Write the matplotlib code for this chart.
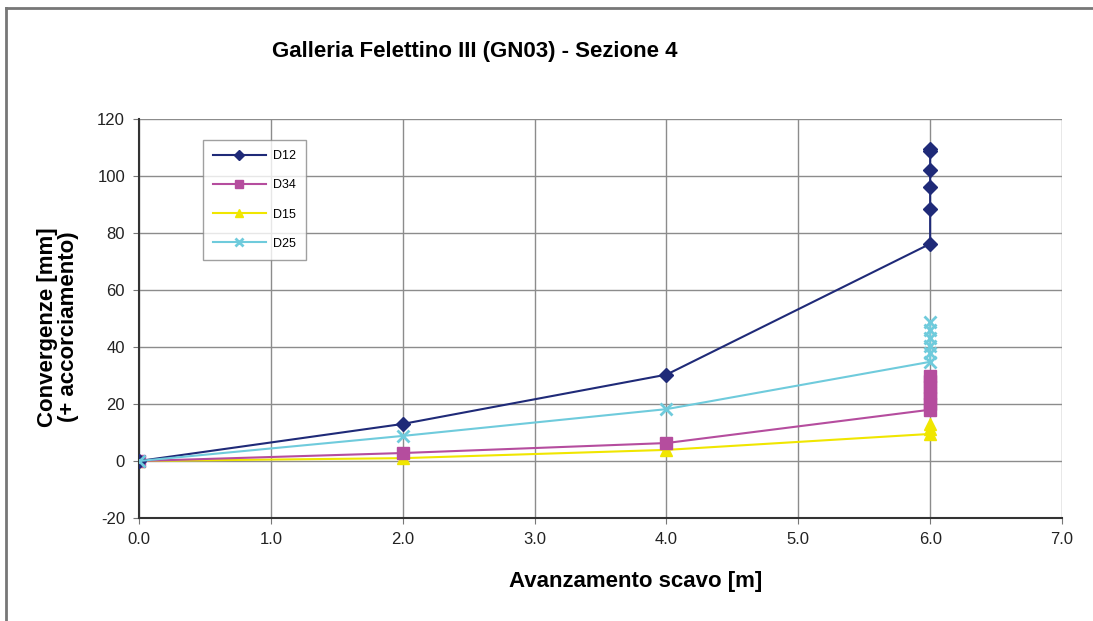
import matplotlib
matplotlib.use("Agg")
import matplotlib.pyplot as plt
from matplotlib.lines import Line2D

plt.rcParams['font.family'] = ['Liberation Sans', 'DejaVu Sans']
plt.rcParams['axes.unicode_minus'] = False

# Data
d12_x = [0.0, 2.0, 4.0, 6.0, 6.0, 6.0, 6.0, 6.0, 6.0]
d12_y = [0.0, 13.0, 30.3, 76.2, 88.4, 96.0, 102.2, 108.6, 109.6]
d34_x = [0.0, 2.0, 4.0, 6.0, 6.0, 6.0, 6.0, 6.0, 6.0, 6.0]
d34_y = [0.0, 2.8, 6.3, 18.0, 20.0, 22.0, 24.0, 26.0, 28.0, 30.0]
d15_x = [0.0, 2.0, 4.0, 6.0, 6.0, 6.0]
d15_y = [0.0, 1.0, 3.9, 9.5, 11.2, 13.0]
d25_x = [0.0, 2.0, 4.0, 6.0, 6.0, 6.0, 6.0, 6.0, 6.0]
d25_y = [0.0, 8.8, 18.2, 34.8, 37.8, 40.2, 43.0, 46.0, 48.6]

title = "Galleria Felettino III (GN03) - Sezione 4"
xlabel = "Avanzamento scavo [m]"
ylabel = "Convergenze [mm]\n(+ accorciamento)"
xticks = [0, 1, 2, 3, 4, 5, 6, 7]
yticks = [-20, 0, 20, 40, 60, 80, 100, 120]

fig = plt.figure(figsize=(10.93, 6.21), dpi=100)
W, H = 1093, 621
ax = fig.add_axes([139 / W, 1 - 518 / H, (1062 - 139) / W, (518 - 119) / H])

ax.plot(d12_x, d12_y, color='#1F2A78', marker='D', markersize=7, lw=1.5, label='D12', zorder=5)
ax.plot(d34_x, d34_y, color='#B54D9E', marker='s', markersize=8, lw=1.5, label='D34', zorder=4)
ax.plot(d15_x, d15_y, color='#F0E600', marker='^', markersize=8, lw=1.5, label='D15', zorder=3)
ax.plot(d25_x, d25_y, color='#6FCBDC', marker='x', markersize=8, mew=2, lw=1.5, label='D25', zorder=6)

ax.set_xlim(0, 7)
ax.set_ylim(-20, 120)
ax.set_xticks(xticks)
ax.set_xticklabels([f"{v:.1f}" for v in xticks])
ax.set_yticks(yticks)
ax.grid(True, color='#8c8c8c', lw=1)
ax.set_axisbelow(True)
for s in ['top', 'right']:
    ax.spines[s].set_visible(False)
for s in ['left', 'bottom']:
    ax.spines[s].set_color('#333333')
    ax.spines[s].set_linewidth(1.5)
ax.tick_params(axis='both', direction='out', length=4, color='#777777',
               labelsize=12, labelcolor='#222222', pad=6)

fig.text(636 / W, 1 - 581 / H, xlabel, fontsize=16, fontweight='bold', ha='center', va='center')
fig.text(58 / W, 1 - 327 / H, ylabel, fontsize=16, fontweight='bold', ha='center', va='center',
         rotation=90, linespacing=1.0)

fig.text(475 / W, 1 - 52 / H, title, fontsize=16, fontweight='bold', ha='center', va='center')

leg = ax.legend(loc='upper left', bbox_to_anchor=((203 - 139) / (1062 - 139), 1 - (140 - 119) / (518 - 119)),
                frameon=True, fancybox=False, edgecolor='#888888', fontsize=9,
                borderpad=0.8, labelspacing=1.38, handlelength=4.2, handletextpad=0.6,
                borderaxespad=0, markerscale=0.7)
leg.get_frame().set_linewidth(1)

# Outer frame
fig.add_artist(Line2D([6 / W, 1.0], [1 - 8 / H, 1 - 8 / H], color='#777777', lw=2, transform=fig.transFigure))
fig.add_artist(Line2D([6 / W, 6 / W], [0, 1 - 8 / H], color='#777777', lw=2, transform=fig.transFigure))

fig.savefig("out.png", dpi=100)
